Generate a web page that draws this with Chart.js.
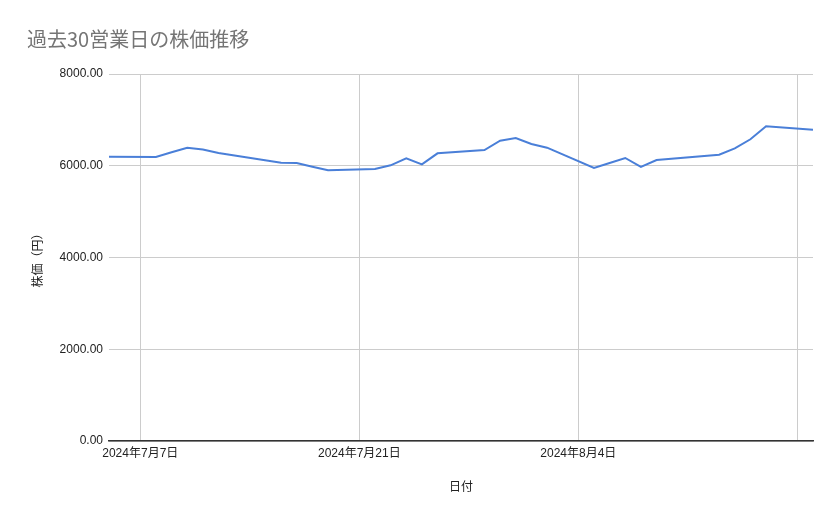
<!DOCTYPE html>
<html><head><meta charset="utf-8">
<script src="https://cdn.jsdelivr.net/npm/chart.js@4"></script>
<style>html,body{margin:0;padding:0;background:#fff}#wrap{width:839px;height:519px}</style>
</head><body><div id="wrap"><canvas id="c"></canvas></div>
<script>
const dates = ["2024-07-05","2024-07-08","2024-07-09","2024-07-10","2024-07-11","2024-07-12","2024-07-16","2024-07-17","2024-07-18","2024-07-19","2024-07-22","2024-07-23","2024-07-24","2024-07-25","2024-07-26","2024-07-29","2024-07-30","2024-07-31","2024-08-01","2024-08-02","2024-08-05","2024-08-06","2024-08-07","2024-08-08","2024-08-09","2024-08-13","2024-08-14","2024-08-15","2024-08-16","2024-08-19"];
const prices = [6197,6191,6293,6394,6354,6280,6066,6060,5979,5901,5929,6010,6162,6031,6271,6343,6546,6605,6474,6394,5951,6060,6169,5973,6125,6241,6380,6577,6860,6786];
const tickDates = ["2024-07-07","2024-07-21","2024-08-04","2024-08-18"];
const tickLabels = ["2024年7月7日","2024年7月21日","2024年8月4日",""];
const yTicks = [0,2000,4000,6000,8000];
const titleText = "過去30営業日の株価推移";
const xTitle = "日付";
const yTitle = "株価（円）";

const DAY = 86400000;
const base = Date.UTC(2024,6,7);
const toDay = s => { const [y,m,d] = s.split("-").map(Number); return (Date.UTC(y,m-1,d)-base)/DAY; };
const pts = dates.map((d,i)=>({x: toDay(d), y: prices[i]}));
const tickPos = tickDates.map(toDay);

const FONT = "'Liberation Sans', Arial, 'Noto Sans CJK JP', sans-serif";
new Chart(document.getElementById('c'), {
  type: 'line',
  data: { datasets: [{ data: pts, borderColor: '#4a7fd8', borderWidth: 2, pointRadius: 0, tension: 0, fill: false }] },
  options: {
    responsive: true, maintainAspectRatio: false, animation: false,
    layout: { padding: { left: 27, right: 26, top: 18, bottom: 12 } },
    plugins: {
      legend: { display: false }, tooltip: { enabled: false },
      title: { display: true, text: titleText, align: 'start', color: '#757575',
        font: { family: "'Noto Sans CJK JP', sans-serif", size: 20, weight: 'normal' }, padding: { top: 9, bottom: 23 } }
    },
    scales: {
      x: {
        type: 'linear', min: toDay(dates[0]), max: toDay(dates[dates.length-1]),
        afterBuildTicks: s => { s.ticks = tickPos.map(v => ({ value: v })); },
        afterFit: s => { s.height = 66; },
        ticks: { autoSkip: false, maxRotation: 0, padding: 5, color: '#222',
          font: { family: FONT, size: 12 },
          callback: (v) => { const i = tickPos.indexOf(v); return i >= 0 ? tickLabels[i] : ''; } },
        grid: { color: '#cccccc', drawTicks: false, lineWidth: 1 },
        border: { display: true, color: '#333333', width: 1.5 },
        title: { display: true, text: xTitle, color: '#222', font: { family: FONT, size: 12 }, padding: { top: 12, bottom: 12 } }
      },
      y: {
        min: 0, max: 8000,
        afterBuildTicks: s => { s.ticks = yTicks.map(v => ({ value: v })); },
        afterFit: s => { s.width = 82; },
        ticks: { padding: 6, color: '#222', font: { family: FONT, size: 12 },
          callback: v => Number(v).toFixed(2) },
        grid: { color: '#cccccc', drawTicks: false },
        border: { display: false },
        title: { display: true, text: yTitle, color: '#222', font: { family: FONT, size: 12 }, padding: { bottom: 0 } }
      }
    }
  }
});
</script></body></html>
